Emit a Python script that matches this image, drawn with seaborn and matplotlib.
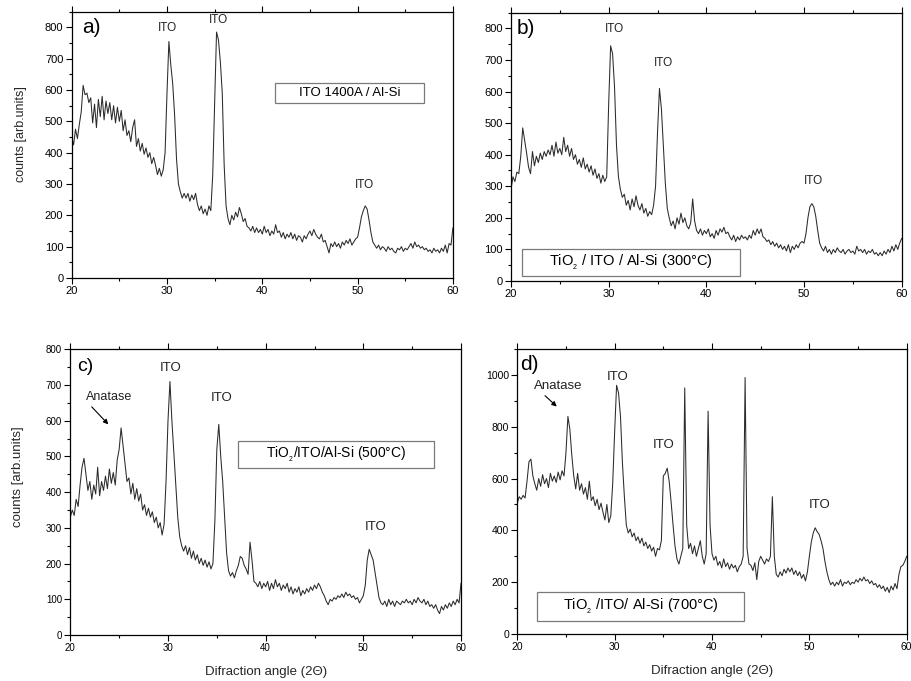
import numpy as np
import pandas as pd
import matplotlib
matplotlib.use("Agg")
import matplotlib.pyplot as plt
from matplotlib.patches import Rectangle
from matplotlib.ticker import MultipleLocator
import seaborn as sns

# Diffraction angle grid (2-theta, degrees)
two_theta = np.round(np.arange(20.0, 60.0001, 0.2), 1)

# a) ITO 1400A / Al-Si
counts_a = [
    450, 425, 475, 445, 490, 530, 615, 585, 590, 560,
    575, 495, 555, 480, 570, 515, 580, 505, 565, 525,
    560, 505, 550, 495, 545, 500, 535, 470, 505, 455,
    470, 435, 480, 505, 420, 445, 405, 430, 395, 415,
    385, 400, 365, 385, 360, 330, 350, 325, 345, 400,
    590, 755, 680, 620, 520, 380, 300, 275, 255, 270,
    255, 270, 245, 265, 250, 270, 235, 215, 230, 205,
    220, 200, 230, 215, 330, 560, 785, 760, 690, 590,
    360, 230, 190, 170, 200, 185, 210, 195, 225, 205,
    180, 190, 165, 160, 150, 165, 145, 160, 145, 155,
    140, 165, 145, 155, 135, 150, 140, 170, 145, 150,
    130, 145, 125, 140, 130, 145, 125, 140, 120, 135,
    130, 115, 135, 125, 140, 150, 135, 155, 140, 130,
    125, 140, 115, 120, 100, 80, 110, 100, 115, 100,
    110, 95, 115, 105, 120, 110, 125, 105, 115, 125,
    130, 160, 195, 215, 230, 220, 185, 145, 115, 105,
    95, 105, 90, 100, 95, 85, 100, 90, 95, 85,
    80, 95, 90, 100, 85, 95, 90, 100, 110, 95,
    115, 100, 105, 95, 100, 90, 95, 85, 90, 80,
    95, 85, 90, 80, 95, 85, 105, 80, 110, 105,
    160,
]

# b) TiO2 / ITO / Al-Si (300 C)
counts_b = [
    290, 330, 315, 345, 340, 395, 485, 445, 405, 360,
    340, 410, 365, 395, 375, 405, 385, 410, 395, 415,
    400, 430, 395, 440, 405, 420, 400, 455, 410, 430,
    395, 420, 385, 400, 370, 385, 360, 390, 355, 370,
    345, 365, 335, 355, 325, 340, 310, 335, 315, 330,
    560, 745, 720, 615, 430, 330, 290, 265, 275, 240,
    255, 225, 260, 235, 270, 240, 225, 245, 215, 230,
    205, 220, 210, 240, 300, 470, 610, 545, 430, 310,
    230, 200, 175, 190, 165, 200, 180, 215, 185, 200,
    175, 165, 185, 260, 190, 160, 150, 165, 145, 160,
    150, 165, 140, 150, 135, 160, 145, 165, 155, 170,
    150, 155, 140, 130, 145, 125, 140, 130, 145, 135,
    140, 130, 145, 135, 160, 145, 165, 150, 165, 140,
    135, 125, 130, 115, 125, 110, 120, 105, 115, 100,
    110, 95, 115, 90, 110, 100, 115, 105, 120, 125,
    120, 150, 200, 235, 245, 235, 205, 160, 120, 105,
    95, 110, 90, 100, 85, 100, 90, 105, 95, 90,
    100, 85, 95, 100, 90, 95, 85, 110, 95, 100,
    90, 100, 85, 95, 90, 100, 85, 90, 80, 90,
    80, 95, 85, 100, 90, 110, 95, 115, 100, 120,
    135,
]

# c) TiO2/ITO/Al-Si (500 C)
counts_c = [
    330, 350, 335, 380, 360, 420, 470, 495, 450, 405,
    430, 380, 420, 395, 470, 390, 430, 405, 445, 410,
    465, 425, 455, 420, 490, 520, 580, 530, 480, 430,
    440, 395, 425, 380, 410, 375, 395, 350, 365, 335,
    355, 330, 345, 315, 330, 300, 315, 280, 310, 430,
    600, 710, 600, 510, 420, 330, 275, 250, 235, 250,
    225, 245, 215, 235, 210, 225, 200, 215, 195, 210,
    190, 205, 185, 200, 320, 520, 590, 500, 430, 330,
    230, 180, 165, 175, 160, 180, 195, 220, 215, 195,
    185, 170, 260, 210, 150, 145, 135, 150, 130, 145,
    135, 150, 125, 145, 130, 155, 135, 145, 125, 140,
    130, 145, 120, 135, 115, 130, 120, 135, 110, 125,
    115, 130, 120, 135, 125, 140, 130, 145, 135, 120,
    110, 95, 85, 100, 95, 105, 100, 110, 105, 115,
    105, 120, 110, 115, 105, 110, 100, 105, 90, 100,
    110, 140, 210, 240, 225, 210, 175, 140, 105, 90,
    85, 95, 80, 100, 85, 95, 80, 95, 90, 85,
    95, 90, 100, 90, 95, 85, 100, 90, 105, 95,
    90, 100, 85, 95, 80, 85, 75, 85, 70, 60,
    80, 70, 85, 75, 90, 80, 95, 85, 100, 90,
    145,
]

# d) TiO2 /ITO/ Al-Si (700 C)
counts_d = [
    505, 530, 520, 535, 525, 590, 665, 675, 610, 580,
    555, 600, 570, 615, 580, 600, 565, 620, 590, 610,
    585, 625, 595, 630, 610, 700, 840, 790, 690, 610,
    560, 620, 555, 580, 540, 565, 520, 590, 515, 530,
    495, 520, 480, 505, 470, 440, 500, 430, 455, 580,
    780, 960, 930, 840, 660, 530, 420, 390, 405, 375,
    390, 360, 375, 350, 370, 340, 355, 330, 345, 320,
    335, 300, 330, 325, 360, 610, 620, 640, 590, 510,
    420, 340, 290, 270, 300, 330, 950, 420, 330, 350,
    310, 340, 300, 330, 360, 300, 270, 310, 860, 420,
    310, 285, 300, 265, 280, 255, 290, 260, 275, 250,
    270, 255, 265, 240, 260, 270, 300, 990, 330, 270,
    265, 245, 275, 210, 280, 300, 285, 270, 290, 280,
    300, 530, 300, 230, 220, 240, 225, 250, 235, 255,
    240, 255, 230, 245, 225, 240, 215, 230, 205, 240,
    300, 355, 390, 410, 395, 385, 360, 330, 280, 240,
    210, 190, 200, 185, 200, 190, 210, 185, 200, 195,
    205, 190, 200, 195, 210, 200, 215, 205, 220, 205,
    210, 195, 205, 190, 195, 180, 190, 175, 185, 165,
    180, 160, 185, 170, 195, 175, 230, 260, 265, 280,
    300,
]

panel_letters = ["a)", "b)", "c)", "d)"]
sample_labels = [
    "ITO 1400A / Al-Si",
    r"TiO$_{_{2}}$ / ITO / Al-Si (300°C)",
    r"TiO$_{_{2}}$/ITO/Al-Si (500°C)",
    r"TiO$_{_{2}}$ /ITO/ Al-Si (700°C)",
]

sns.set_theme(style="ticks")
plt.rcParams["font.family"] = ["Liberation Sans", "DejaVu Sans"]
plt.rcParams["mathtext.default"] = "regular"

line_color = "#2b2b2b"

panels = [
    dict(rect=[0.0786, 0.5918, 0.4180, 0.3910], y=counts_a, ylim=850, ymaj=100, ymin=50,
         tick_fs=8, letter=(21.1, 801, 15), box=(41.33, 558, 56.97, 622), box_text=(49.15, 590, 9.5),
         peaks=[(30.05, 797, "ITO"), (35.35, 825, "ITO"), (50.72, 298, "ITO")], peak_fs=8.5,
         ylabel=True, xlabel=False, anatase=None),
    dict(rect=[0.5603, 0.5874, 0.4284, 0.3940], y=counts_b, ylim=850, ymaj=100, ymin=50,
         tick_fs=8, letter=(20.55, 800, 15), box=(21.1, 16, 43.4, 100), box_text=(32.26, 58, 10.5),
         peaks=[(30.55, 798, "ITO"), (35.56, 692, "ITO"), (50.94, 318, "ITO")], peak_fs=8.5,
         ylabel=False, xlabel=False, anatase=None),
    dict(rect=[0.0771, 0.0675, 0.4284, 0.4195], y=counts_c, ylim=800, ymaj=100, ymin=50,
         tick_fs=7, letter=(20.7, 751, 14), box=(37.2, 467, 57.26, 544), box_text=(47.23, 505, 10),
         peaks=[(30.3, 747, "ITO"), (35.5, 664, "ITO"), (51.22, 302, "ITO")], peak_fs=9.5,
         ylabel=True, xlabel=True, anatase=((23.96, 667), (22.19, 639), (23.89, 590), 9)),
    dict(rect=[0.5672, 0.0690, 0.4270, 0.4185], y=counts_d, ylim=1100, ymaj=200, ymin=100,
         tick_fs=7.5, letter=(20.25, 1040, 15), box=(22.05, 51, 43.29, 161), box_text=(32.68, 106, 10.5),
         peaks=[(30.34, 992, "ITO"), (34.99, 731, "ITO"), (51.06, 498, "ITO")], peak_fs=9.5,
         ylabel=False, xlabel=True, anatase=((24.21, 957), (22.85, 920), (24.05, 878), 9.5)),
]

fig = plt.figure(figsize=(9.12, 6.81), dpi=100)
fig.patch.set_facecolor("white")

for letter, label, spec in zip(panel_letters, sample_labels, panels):
    ax = fig.add_axes(spec["rect"])
    df = pd.DataFrame({"angle": two_theta, "counts": spec["y"]})
    sns.lineplot(data=df, x="angle", y="counts", ax=ax, color=line_color,
                 lw=0.75, estimator=None, sort=True)

    ax.set_xlim(20, 60)
    ax.set_ylim(0, spec["ylim"])
    ax.xaxis.set_major_locator(MultipleLocator(10))
    ax.xaxis.set_minor_locator(MultipleLocator(5))
    ax.yaxis.set_major_locator(MultipleLocator(spec["ymaj"]))
    ax.yaxis.set_minor_locator(MultipleLocator(spec["ymin"]))
    ax.tick_params(which="both", direction="out", top=True, right=False,
                   labelsize=spec["tick_fs"], colors="black", width=0.8)
    ax.tick_params(which="major", length=4, pad=2)
    ax.tick_params(which="minor", length=2.5)
    for sp in ax.spines.values():
        sp.set_visible(True)
        sp.set_color("black")
        sp.set_linewidth(0.9)
    ax.set_facecolor("white")
    ax.grid(False)

    ax.set_xlabel("")
    ax.set_ylabel("")
    if spec["ylabel"]:
        ax.set_ylabel("counts [arb.units]", fontsize=9 if letter == "a)" else 9.5)
        ax.yaxis.set_label_coords(-0.118, 0.54 if letter == "a)" else 0.553)
    if spec["xlabel"]:
        ax.set_xlabel("Difraction angle (2Θ)", fontsize=9.5)
        ax.xaxis.set_label_coords(0.5, -0.108)

    lx, ly, lfs = spec["letter"]
    ax.text(lx, ly, letter, fontsize=lfs, ha="left", va="center", color="black")

    for px, py, txt in spec["peaks"]:
        ax.text(px, py, txt, fontsize=spec["peak_fs"], ha="center", va="center", color="#222222")

    x0, y0, x1, y1 = spec["box"]
    ax.add_patch(Rectangle((x0, y0), x1 - x0, y1 - y0, fill=True, facecolor="white",
                           edgecolor="#7a7a7a", lw=0.9, zorder=3))
    tx, ty, tfs = spec["box_text"]
    ax.text(tx, ty, label, fontsize=tfs, ha="center", va="center", color="black", zorder=4)

    if spec["anatase"] is not None:
        (ax_t, ay_t), start, end, afs = spec["anatase"]
        ax.text(ax_t, ay_t, "Anatase", fontsize=afs, ha="center", va="center", color="#222222")
        ax.annotate("", xy=end, xytext=start,
                    arrowprops=dict(arrowstyle="-|>", color="black", lw=0.8,
                                    mutation_scale=7, shrinkA=0, shrinkB=0))

fig.savefig("out.png", dpi=100, facecolor="white")
